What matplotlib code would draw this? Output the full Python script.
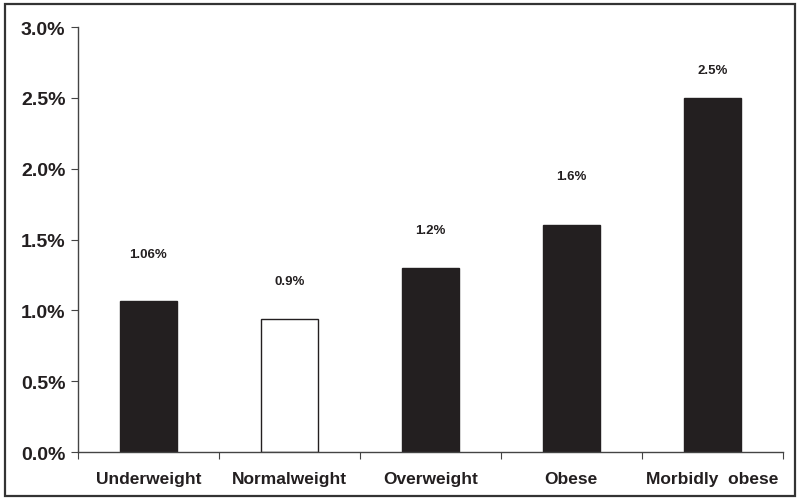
import matplotlib as mpl
mpl.use('Agg')
import matplotlib.pyplot as plt
from matplotlib.patches import Rectangle
from matplotlib.ticker import FuncFormatter

categories = ["Underweight", "Normalweight", "Overweight", "Obese", "Morbidly  obese"]
values = [1.066, 0.94, 1.30, 1.60, 2.50]
value_labels = ["1.06%", "0.9%", "1.2%", "1.6%", "2.5%"]
filled = [True, False, True, True, True]

# heights where the value labels sit (axis units), not data
label_pos = [1.40, 1.21, 1.57, 1.95, 2.70]

plt.rcParams['font.family'] = ['Liberation Sans', 'DejaVu Sans']
dark = '#231f20'

fig = plt.figure(figsize=(8, 5.02), dpi=100)
ax = fig.add_axes([0.0975, 0.0976, 0.881, 0.8464])

x = range(len(categories))
for i in x:
    ax.bar(i, values[i], width=0.4, color=dark if filled[i] else 'white',
           edgecolor=dark, linewidth=1.0)
    ax.text(i, label_pos[i], value_labels[i], ha='center', va='center',
            fontsize=9.5, fontweight='bold', color=dark)

ax.set_xlim(-0.5, len(categories) - 0.5)
ax.set_ylim(0, 3.0)
ax.set_yticks([0, 0.5, 1.0, 1.5, 2.0, 2.5, 3.0])
ax.yaxis.set_major_formatter(FuncFormatter(lambda v, p: "%.1f%%" % v))
ax.set_xticks([i + 0.5 for i in range(-1, len(categories))], minor=False)
ax.set_xticklabels([])
ax.set_xticks(list(x), minor=True)
ax.set_xticklabels(categories, minor=True, fontsize=12.5, fontweight='bold', color=dark)
ax.tick_params(axis='x', which='minor', length=0, pad=14)
ax.tick_params(axis='x', which='major', length=5, direction='out', color='#444')
ax.tick_params(axis='y', length=5, direction='out', color='#444', pad=4)
for lab in ax.get_yticklabels():
    lab.set_fontsize(14)
    lab.set_fontweight('bold')
    lab.set_color(dark)

for s in ['top', 'right']:
    ax.spines[s].set_visible(False)
for s in ['left', 'bottom']:
    ax.spines[s].set_color('#444')
    ax.spines[s].set_linewidth(1.0)

fig.patches.append(Rectangle((0.006, 0.01), 0.988, 0.98, transform=fig.transFigure,
                             fill=False, edgecolor='#333', linewidth=1.6))

plt.savefig('out.png', dpi=100)
